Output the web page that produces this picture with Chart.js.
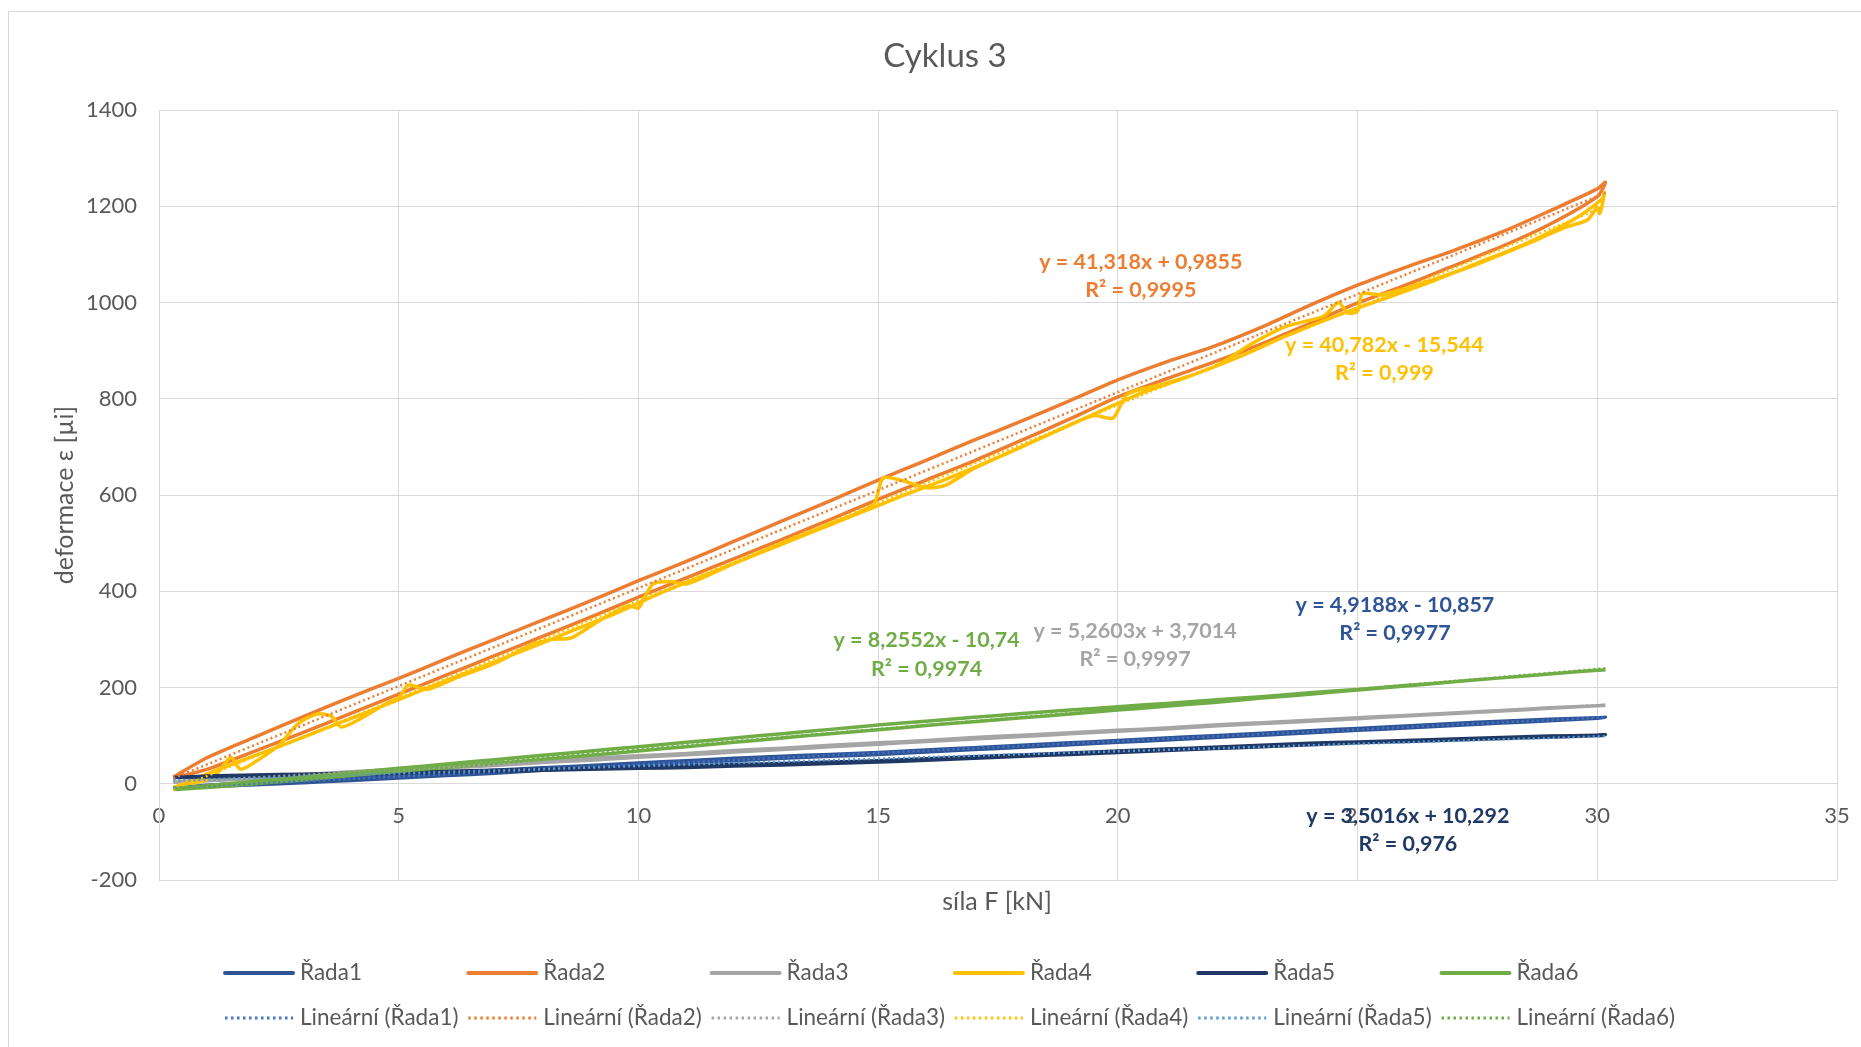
<!DOCTYPE html>
<html>
<head>
<meta charset="utf-8">
<title>Cyklus 3</title>
<script src="https://cdn.jsdelivr.net/npm/chart.js@4.4.1/dist/chart.umd.min.js"></script>
<style>
  html, body { margin: 0; padding: 0; background: #fff; }
  #wrap { width: 1861px; height: 1047px; position: relative; }
</style>
</head>
<body>
<div id="wrap"><canvas id="chart"></canvas></div>
<script>
// síla F [kN] - shared x values, loading goes up, unloading comes back down the same x's
const forceUp = [0.3, 1, 2, 3, 4, 5, 6, 7, 8, 9, 10, 11, 12, 13, 14, 15, 16, 17, 18, 19, 20,
  21, 22, 23, 24, 25, 26, 27, 28, 29, 30, 30.17];

// deformace ε [µi]
const rada1Load = [-9, -6, -2, 2, 7, 12, 17, 22, 28, 33, 39, 44, 48, 53, 57, 61, 66, 71, 76, 81, 86, 91, 96, 101, 106, 111, 116, 121, 126, 131, 136, 138];
const rada1Unload = [-9, -3, 2, 7, 12, 17, 22, 28, 33, 38, 43, 48, 53, 57, 61, 65, 70, 75, 80, 85, 90, 95, 100, 105, 110, 115, 120, 125, 130, 134, 137, 138];

const rada2Load = [14, 54, 97, 139, 180, 219, 260, 300, 340, 380, 422, 462, 504, 546, 588, 631, 672, 714, 754, 796, 839, 876, 909, 949, 994, 1036, 1073, 1108, 1146, 1190, 1236, 1250];
const rada2Unload = [12, 30, 68, 106, 146, 186, 226, 266, 306, 346, 388, 428, 468, 508, 549, 591, 631, 671, 714, 758, 804, 841, 876, 914, 956, 999, 1036, 1076, 1116, 1162, 1220, 1250];

const rada3Load = [3, 6, 11, 16, 22, 27, 33, 38, 44, 49, 55, 60, 66, 71, 77, 82, 88, 93, 98, 104, 109, 114, 120, 125, 130, 135, 141, 146, 151, 157, 162, 163];
const rada3Unload = [3, 8, 14, 19, 25, 30, 36, 42, 47, 53, 58, 63, 69, 74, 80, 85, 90, 96, 101, 106, 111, 116, 122, 127, 132, 137, 142, 147, 152, 158, 162, 163];

// Řada4 is noisy, so it has its own x values
const rada4LoadX = [0.3, 0.6, 0.9, 1.2, 1.5, 1.7, 2.0, 2.5, 2.9, 3.3, 3.6, 3.8, 4.2, 4.8, 5.0, 5.2, 5.6, 6.2, 7.0, 7.8,
  8.2, 8.6, 9.2, 9.8, 10.0, 10.3, 10.7, 11.0, 12.0, 13.0, 14.0, 14.9, 15.1, 15.5, 16.0, 16.4, 17.0, 18.0, 19.0, 19.5,
  19.9, 20.2, 21.0, 22.0, 22.8, 23.5, 24.3, 24.6, 24.8, 25.0, 25.1, 25.5, 26.5, 27.5, 28.5, 29.3, 29.8, 30.0, 30.05, 30.15];
const rada4LoadY = [-10, 0, 5, 20, 55, 30, 45, 80, 125, 145, 140, 118, 135, 170, 178, 205, 196, 220, 250, 290,
  300, 303, 340, 370, 365, 415, 420, 415, 458, 500, 540, 580, 635, 630, 615, 620, 655, 700, 745, 765,
  760, 810, 832, 866, 915, 950, 972, 1000, 978, 982, 1018, 1016, 1045, 1080, 1120, 1155, 1172, 1198, 1185, 1228];
const rada4UnloadX = [30.1, 29.5, 28.5, 27.5, 26.5, 25.5, 24.5, 23.5, 22.5, 21.5, 20.5, 19.5, 18.5, 17.5, 16.5, 15.5,
  14.5, 13.5, 12.5, 11.5, 10.5, 9.5, 8.5, 7.5, 6.5, 5.5, 4.5, 3.5, 2.5, 1.5, 0.8, 0.3];
const rada4UnloadY = [1215, 1172, 1122, 1082, 1042, 1006, 970, 930, 886, 847, 812, 768, 723, 678, 636, 598,
  558, 518, 478, 438, 398, 353, 313, 273, 234, 195, 155, 116, 77, 40, 12, -8];

const rada5Load = [13, 14, 16, 18, 20, 22, 24, 26, 28, 30, 32, 34, 37, 39, 42, 45, 49, 53, 57, 61, 65, 69, 73, 77, 81, 85, 88, 91, 94, 97, 100, 102];
const rada5Unload = [13, 16, 18, 20, 22, 24, 26, 28, 30, 32, 34, 37, 40, 42, 45, 48, 52, 56, 60, 64, 68, 72, 76, 80, 84, 87, 90, 93, 96, 99, 101, 102];

const rada6Load = [-12, -8, 0, 8, 17, 26, 34, 42, 51, 59, 68, 77, 86, 95, 104, 112, 121, 129, 137, 145, 153, 161, 169, 178, 186, 195, 203, 212, 220, 228, 236, 237];
const rada6Unload = [-10, -4, 5, 14, 23, 32, 41, 50, 59, 68, 77, 86, 95, 104, 113, 122, 130, 138, 146, 153, 160, 167, 174, 181, 189, 196, 204, 212, 220, 228, 236, 237];

const seriesNames = ['Řada1', 'Řada2', 'Řada3', 'Řada4', 'Řada5', 'Řada6'];
const seriesColors = ['#2F5597', '#ED7D31', '#A5A5A5', '#FFC000', '#203864', '#70AD47'];
const trendColors = ['#4472C4', '#ED7D31', '#A5A5A5', '#FFC000', '#5B9BD5', '#70AD47'];

// trendline labels as Excel shows them, anchored in data units
const trendText = [
  ['y = 4,9188x - 10,857', 'R² = 0,9977'],
  ['y = 41,318x + 0,9855', 'R² = 0,9995'],
  ['y = 5,2603x + 3,7014', 'R² = 0,9997'],
  ['y = 40,782x - 15,544', 'R² = 0,999'],
  ['y = 3,5016x + 10,292', 'R² = 0,976'],
  ['y = 8,2552x - 10,74', 'R² = 0,9974']
];
const trendLabelX = [25.78, 20.48, 20.36, 25.56, 26.05, 16.01];
const trendLabelY = [372, 1085, 318, 912, -67, 298];

const textColor = '#595959';
const gridColor = '#D9D9D9';
Chart.defaults.font.family = 'Lato';

// load branch forward, unload branch backward; the shared turning point only once
function loop(xs, load, unload) {
  const pts = xs.map((x, i) => ({ x: x, y: load[i] }));
  for (let i = xs.length - 1; i >= 0; i--) {
    const last = pts[pts.length - 1];
    if (last.x === xs[i] && last.y === unload[i]) continue;
    pts.push({ x: xs[i], y: unload[i] });
  }
  return pts;
}

function path(xs, ys) {
  return xs.map((x, i) => ({ x: x, y: ys[i] }));
}

// least squares line over the data, like Excel's linear trendline
function linearFit(pts) {
  const n = pts.length;
  let sx = 0, sy = 0, sxx = 0, sxy = 0;
  pts.forEach(p => { sx += p.x; sy += p.y; sxx += p.x * p.x; sxy += p.x * p.y; });
  const b = (n * sxy - sx * sy) / (n * sxx - sx * sx);
  const a = (sy - b * sx) / n;
  const xs = pts.map(p => p.x);
  const x0 = Math.min(...xs), x1 = Math.max(...xs);
  return [{ x: x0, y: a + b * x0 }, { x: x1, y: a + b * x1 }];
}

const seriesData = [
  loop(forceUp, rada1Load, rada1Unload),
  loop(forceUp, rada2Load, rada2Unload),
  loop(forceUp, rada3Load, rada3Unload),
  path(rada4LoadX, rada4LoadY).concat(path(rada4UnloadX, rada4UnloadY)),
  loop(forceUp, rada5Load, rada5Unload),
  loop(forceUp, rada6Load, rada6Unload)
];

const datasets = [];
seriesData.forEach((d, i) => {
  datasets.push({
    label: seriesNames[i],
    data: d,
    showLine: true,
    borderColor: seriesColors[i],
    backgroundColor: seriesColors[i],
    borderWidth: 3.5,
    pointRadius: 0,
    tension: 0.25,
    fill: false,
    order: 12 - i
  });
});
seriesData.forEach((d, i) => {
  datasets.push({
    label: 'Lineární (' + seriesNames[i] + ')',
    data: linearFit(d),
    showLine: true,
    borderColor: trendColors[i],
    backgroundColor: trendColors[i],
    borderWidth: 2.5,
    borderDash: [2, 3],
    pointRadius: 0,
    tension: 0,
    fill: false,
    order: 6 - i
  });
});

const decorPlugin = {
  id: 'decor',
  afterDatasetsDraw(chart) {
    const ctx = chart.ctx;
    const xs = chart.scales.x, ys = chart.scales.y;
    ctx.save();
    ctx.textAlign = 'center';
    ctx.textBaseline = 'middle';
    ctx.font = 'bold 21.5px Lato';
    trendText.forEach((lines, i) => {
      const px = xs.getPixelForValue(trendLabelX[i]);
      const py = ys.getPixelForValue(trendLabelY[i]);
      ctx.fillStyle = seriesColors[i];
      ctx.fillText(lines[0], px, py);
      ctx.fillText(lines[1], px, py + 28.5);
    });
    ctx.restore();
  },
  afterDraw(chart) {
    const ctx = chart.ctx;
    ctx.save();
    // chart area border (cut off at right and bottom like in the picture)
    ctx.strokeStyle = gridColor;
    ctx.lineWidth = 1;
    ctx.strokeRect(8.5, 11.5, 2000, 2000);

    ctx.fillStyle = textColor;
    ctx.textAlign = 'center';
    ctx.textBaseline = 'middle';
    ctx.font = '33px Lato';
    ctx.fillText('Cyklus 3', 945, 56);

    ctx.font = '25px Lato';
    ctx.fillText('síla F [kN]', 997, 902);

    // legend: series on first row, trendlines on second
    ctx.font = '22.5px Lato';
    ctx.textAlign = 'left';
    const n = seriesNames.length;
    chart.data.datasets.forEach((ds, k) => {
      const row = Math.floor(k / n), col = k % n;
      const x0 = 225 + col * 243.3;
      const y0 = row === 0 ? 973 : 1018;
      ctx.beginPath();
      ctx.strokeStyle = ds.borderColor;
      if (row === 0) {
        ctx.lineWidth = 4;
        ctx.setLineDash([]);
        ctx.lineCap = 'round';
      } else {
        ctx.lineWidth = 3;
        ctx.setLineDash([2.5, 3.5]);
        ctx.lineCap = 'butt';
      }
      ctx.moveTo(x0, y0);
      ctx.lineTo(x0 + 68, y0);
      ctx.stroke();
      ctx.setLineDash([]);
      ctx.fillStyle = textColor;
      ctx.fillText(ds.label, x0 + 75, y0);
    });
    ctx.restore();
  }
};

new Chart(document.getElementById('chart'), {
  type: 'scatter',
  data: { datasets: datasets },
  plugins: [decorPlugin],
  options: {
    responsive: true,
    maintainAspectRatio: false,
    animation: false,
    layout: { padding: { top: 110, right: 24, bottom: 167, left: 0 } },
    plugins: {
      legend: { display: false },
      title: { display: false },
      tooltip: { enabled: false }
    },
    scales: {
      x: {
        type: 'linear',
        position: { y: 0 },
        min: 0,
        max: 35,
        ticks: { stepSize: 5, color: textColor, font: { size: 22 }, padding: 0, callback: v => String(v) },
        // invisible tick marks give the label gap without widening the right padding
        grid: { color: gridColor, drawTicks: true, tickLength: 19, tickColor: 'rgba(0,0,0,0)' },
        border: { color: gridColor }
      },
      y: {
        type: 'linear',
        min: -200,
        max: 1400,
        ticks: { stepSize: 200, color: textColor, font: { size: 22 }, padding: 22, callback: v => String(v) },
        grid: { color: gridColor, drawTicks: false },
        border: { color: gridColor },
        title: {
          display: true,
          text: 'deformace ε [µi]',
          color: textColor,
          font: { size: 25 },
          padding: { top: 50, bottom: 0 }
        },
        afterFit: (scale) => { scale.width = 159; }
      }
    }
  }
});
</script>
</body>
</html>
